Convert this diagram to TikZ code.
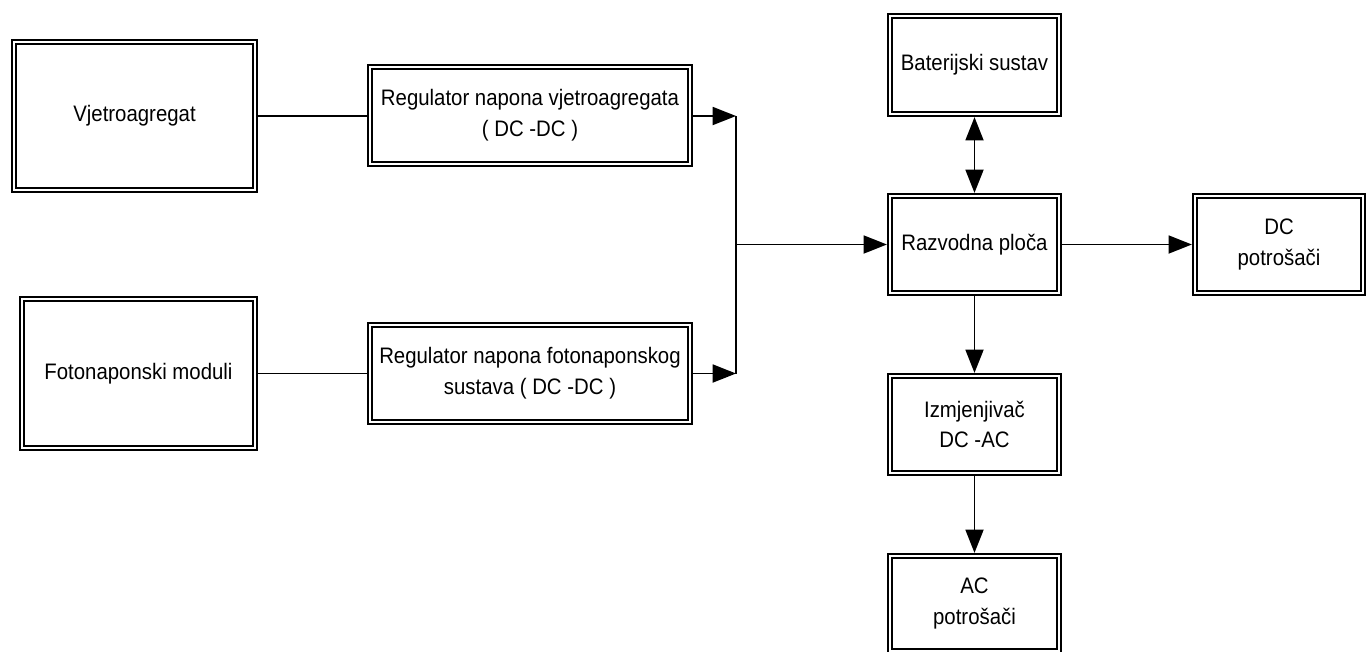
\documentclass[tikz,border=0pt]{standalone}
\usepackage{fontspec}
\setmainfont{Liberation Sans}[FakeStretch=0.91]
\usetikzlibrary{arrows.meta}
\begin{document}
\begin{tikzpicture}[x=0.75pt,y=-0.75pt,
  blk/.style={draw,line width=1.4pt,double,double distance=1.8pt,inner sep=0pt,
    outer sep=2.3pt,align=center,font=\fontsize{16.8pt}{23pt}\selectfont},
  conn/.style={line width=1.4pt},
  arr/.style={conn,-{Triangle[length=17.5pt,width=13.5pt]}},
  barr/.style={conn,{Triangle[length=17.5pt,width=13.5pt]}-{Triangle[length=17.5pt,width=13.5pt]}}]
\useasboundingbox (0,0) rectangle (1368,651);
\node[blk,minimum width=180.8pt,minimum height=111.1pt] (vjetro) at (134.5,116) {Vjetroagregat};
\node[blk,minimum width=240.1pt,minimum height=72.8pt] (reg1) at (530,115.5) {Regulator napona vjetroagregata\\( DC -DC )};
\node[blk,minimum width=174.8pt,minimum height=111.8pt] (foto) at (138.5,373.5) {Fotonaponski moduli};
\node[blk,minimum width=240.1pt,minimum height=72.8pt] (reg2) at (530,373.5) {Regulator napona fotonaponskog\\sustava ( DC -DC )};
\node[blk,minimum width=126.8pt,minimum height=73.6pt] (bat) at (974.5,65) {Baterijski sustav};
\node[blk,minimum width=126.8pt,minimum height=72.8pt] (razv) at (974.5,244.5) {Razvodna ploča};
\node[blk,minimum width=126.1pt,minimum height=72.8pt] (dc) at (1279,244.5) {DC\\potrošači};
\node[blk,minimum width=126.8pt,minimum height=72.8pt] (izm) at (974.5,424.5) {Izmjenjivač\\DC -AC};
\node[blk,minimum width=126.8pt,minimum height=71.3pt] (ac) at (974.5,603.5) {AC\\potrošači};
\coordinate (jt) at (736,116);
\coordinate (jb) at (736,373.5);
\coordinate (jm) at (736,244.5);
\draw[conn] (vjetro.east) -- (vjetro.east -| reg1.west);
\draw[conn] (foto.east) -- (foto.east -| reg2.west);
\draw[arr] (reg1.east |- jt) -- (jt);
\draw[arr] (reg2.east |- jb) -- (jb);
\draw[conn] (jt) -- (jb);
\draw[arr] (jm) -- (razv.west);
\draw[barr] (bat.south) -- (razv.north);
\draw[arr] (razv.east) -- (dc.west);
\draw[arr] (razv.south) -- (izm.north);
\draw[arr] (izm.south) -- (ac.north);
\end{tikzpicture}
\end{document}
